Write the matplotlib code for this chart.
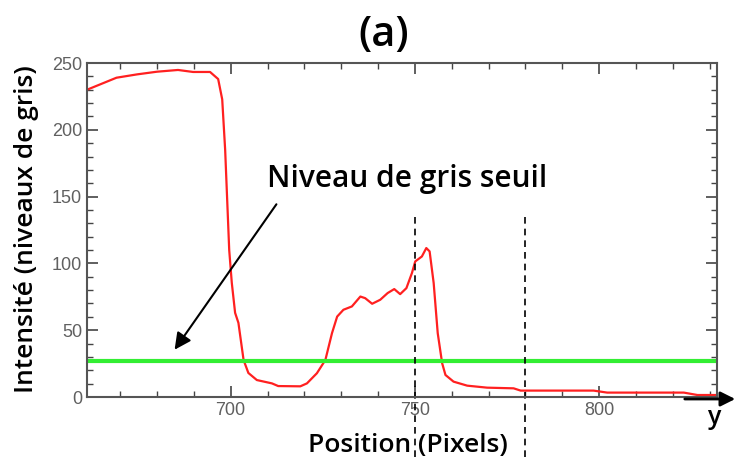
import matplotlib.pyplot as plt
import numpy as np
from matplotlib.ticker import MultipleLocator

# profil d'intensite
position = [661, 669, 674.6, 680, 685.7, 689.8, 694.4, 696.6, 697.7, 698.5, 699.6,
            700.3, 701.2, 702.1, 703.5, 704.8, 707.1, 711.2, 712.9, 718.9,
            720.7, 723.4, 725.7, 727.5, 728.9, 730.6, 732.9, 735.2, 736.5, 738.4,
            740.6, 742.6, 744.4, 746, 747.7, 749.2, 750.1, 751.9, 753.1, 754,
            755.1, 756.2, 757.4, 758.3, 760.5, 764.2, 769.6, 776.8, 778.7, 789.5,
            798.5, 802.2, 823, 826.7, 832]
intensite = [230, 239, 241.5, 243.5, 244.8, 243.3, 243.3, 238, 222.8, 185, 110,
             85.5, 63, 55.5, 27.7, 18, 12.7, 10.2, 8.2, 8,
             10.2, 17.8, 27.7, 47.8, 60.2, 65.3, 67.8, 75.2, 74, 69.8,
             72.8, 77.8, 80.8, 77, 81.5, 92.8, 101.5, 105.2, 111.5, 109,
             85.3, 47.8, 25.3, 16.5, 11.5, 8.5, 7, 6.5, 4.8, 4.8,
             4.8, 3.3, 3.3, 1.5, 1.5]
seuil = 27
limites = [750, 780]

fig = plt.figure(figsize=(7.38, 4.61), dpi=100)
ax = fig.add_axes([0.1179, 0.1388, 0.8536, 0.7245])

ax.plot(position, intensite, color='#ff2020', lw=1.6)
ax.axhline(seuil, color='#33ee33', lw=3)
for xv in limites:
    ax.plot([xv, xv], [135, -49], color='black', ls=(0, (4, 3)), lw=1.2, clip_on=False)

ax.set_xlim(661, 832)
ax.set_ylim(0, 250)
ax.xaxis.set_major_locator(MultipleLocator(50))
ax.xaxis.set_minor_locator(MultipleLocator(10))
ax.yaxis.set_major_locator(MultipleLocator(50))
ax.yaxis.set_minor_locator(MultipleLocator(10))
ax.tick_params(which='both', direction='in', top=True, right=True, color='#444444',
               labelcolor='#606060', labelsize=13)
ax.tick_params(which='major', length=8, width=1.2)
ax.tick_params(which='minor', length=4, width=1)
for lab in ax.get_xticklabels() + ax.get_yticklabels():
    lab.set_family('Liberation Sans')
for s in ax.spines.values():
    s.set_color('#555555')
    s.set_linewidth(1.5)

txt = dict(fontweight='semibold', color='black', family='Open Sans')
fig.text(0.52, 0.924, '(a)', ha='center', va='center', fontsize=30, **txt)
fig.text(0.036, 0.504, 'Intensité (niveaux de gris)', rotation=90, ha='center', va='center', fontsize=19, **txt)
fig.text(0.553, 0.033, 'Position (Pixels)', ha='center', va='center', fontsize=19, **txt)
fig.text(0.551, 0.612, 'Niveau de gris seuil', ha='center', va='center', fontsize=21.5, **txt)
fig.text(0.967, 0.095, 'y', ha='center', va='center', fontsize=18, **txt)

ax.annotate('', xy=(173 / 738, 1 - 352 / 461), xycoords='figure fraction',
            xytext=(278 / 738, 1 - 202 / 461), textcoords='figure fraction',
            arrowprops=dict(arrowstyle='-|>', color='black', lw=1.5, mutation_scale=25))
ax.annotate('', xy=(738 / 738, 1 - 399 / 461), xycoords='figure fraction',
            xytext=(682 / 738, 1 - 399 / 461), textcoords='figure fraction',
            arrowprops=dict(arrowstyle='-|>', color='black', lw=2, mutation_scale=22))

fig.savefig('out.png', dpi=100)
